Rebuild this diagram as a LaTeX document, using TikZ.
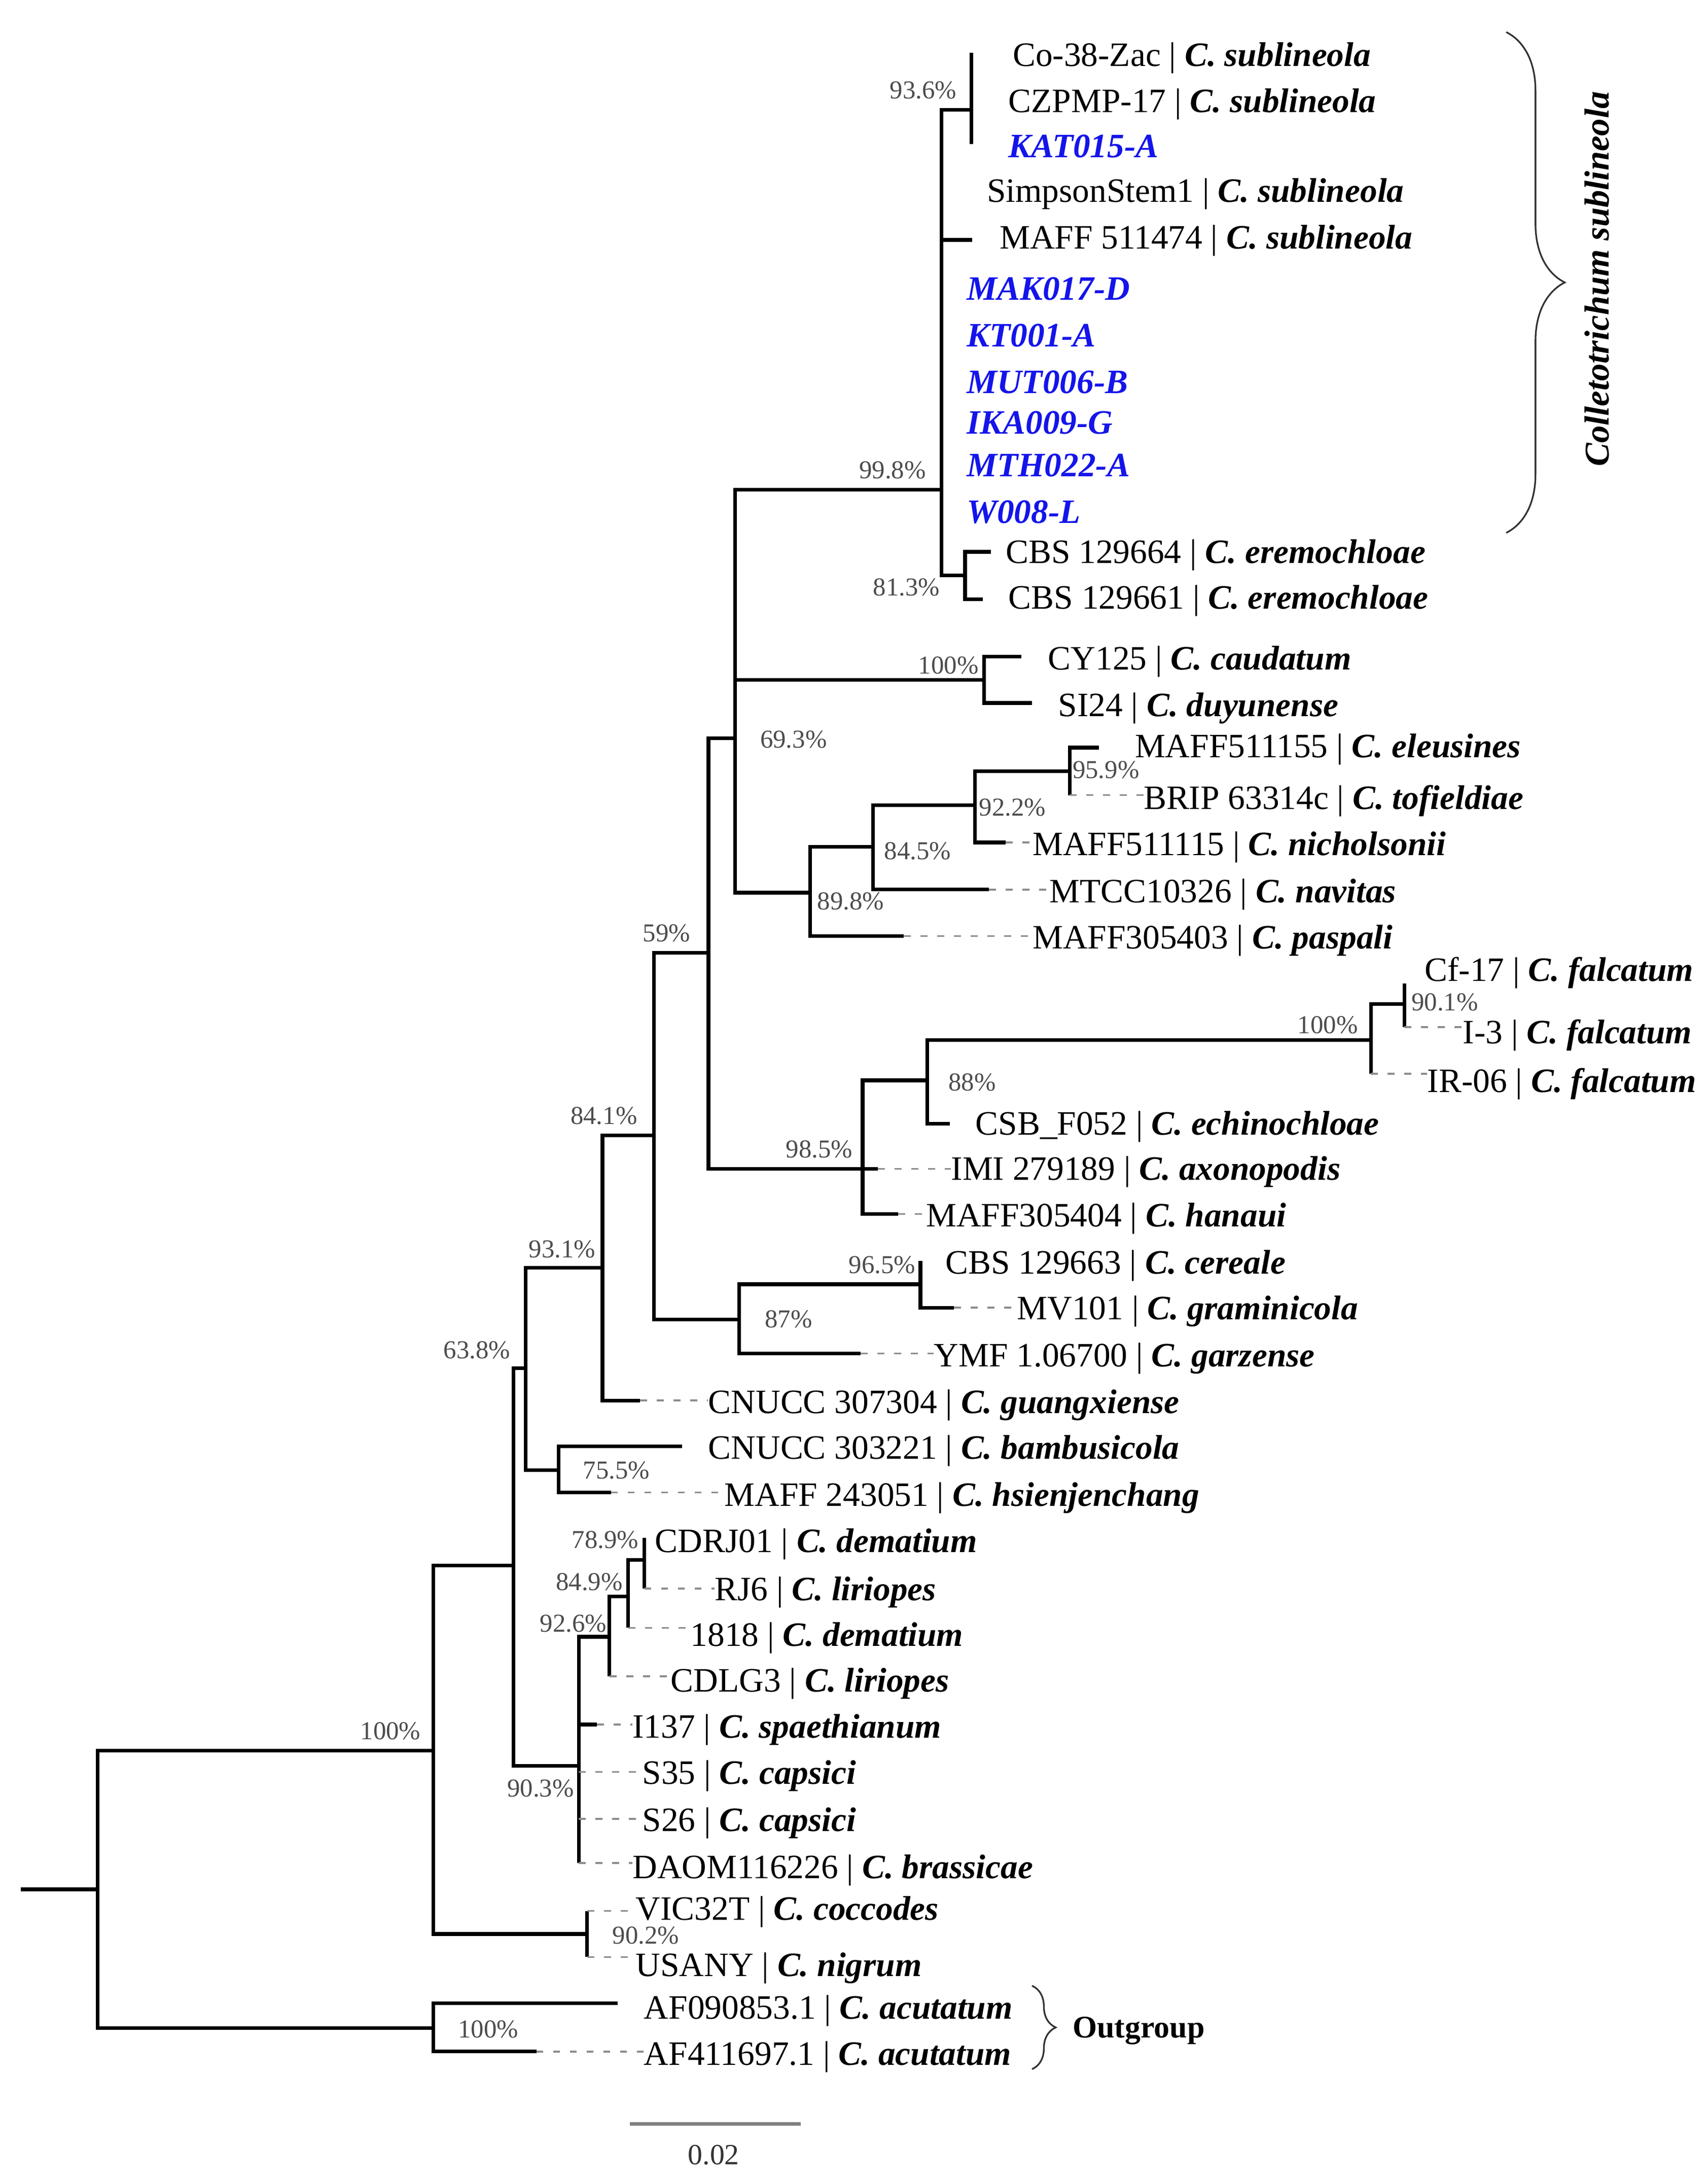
\documentclass[tikz,border=0pt]{standalone}
\usepackage{fontspec}
\setmainfont{Liberation Serif}
\usetikzlibrary{decorations.pathreplacing}
\definecolor{isoblue}{RGB}{20,20,235}
\newcommand{\species}[1]{\textbf{\textit{#1}}}
\tikzset{
  br/.style={line width=2.6pt, line join=miter},
  ext/.style={draw=black!45, line width=1.3pt, dash pattern=on 5pt off 7pt},
  leaf/.style={anchor=west, inner sep=0pt, text height=16pt, text depth=0pt,
    font=\fontsize{24.5}{28}\selectfont},
  isolate/.style={leaf, text=isoblue, font=\fontsize{24.5}{28}\selectfont\bfseries\itshape},
  supp/.style={inner sep=0pt, text=black!70, font=\fontsize{18.5}{20}\selectfont},
  brc/.style={decorate, line width=1.2pt, draw=black!80},
}

\begin{document}
\begin{tikzpicture}[x=1pt, y=-1pt]
\useasboundingbox (0,0) rectangle (1224.7,1563.6);

% internal vertices
\coordinate (r0) at (15,1354.5);
\coordinate (v0) at (70,1354.5);
\coordinate (v1) at (310.6,1255);
\coordinate (vog) at (310.6,1454);
\coordinate (v2) at (368.3,1122.4);
\coordinate (v3) at (377,981);
\coordinate (v4) at (432,909);
\coordinate (v5) at (400.5,1054);
\coordinate (v6) at (469,814);
\coordinate (v7) at (508,683);
\coordinate (v8) at (530,946);
\coordinate (v9) at (660,920.7);
\coordinate (v10) at (527,529.4);
\coordinate (v11) at (618.5,838);
\coordinate (v12) at (665,774.5);
\coordinate (v13) at (983,745.5);
\coordinate (v14) at (1007,719.7);
\coordinate (v15) at (675,351);
\coordinate (v16) at (696.4,78.7);
\coordinate (v17) at (692,412.4);
\coordinate (v18) at (705.5,487.3);
\coordinate (v19) at (581,640);
\coordinate (v20) at (626,607);
\coordinate (v21) at (699,577.4);
\coordinate (v22) at (767,553);
\coordinate (v23) at (415,1266);
\coordinate (v24) at (437,1173.4);
\coordinate (v25) at (450.5,1144.5);
\coordinate (v26) at (462,1118.3);
\coordinate (v27) at (421,1386.5);

% branch ends
\coordinate (e1) at (696.4,37.9);
\coordinate (e3) at (696.4,103.4);
\coordinate (e5) at (697,172);
\coordinate (e12) at (710.4,395.6);
\coordinate (e13) at (704.7,429.5);
\coordinate (e14) at (732.5,470.7);
\coordinate (e15) at (739.8,504);
\coordinate (e16) at (788,536);
\coordinate (e17) at (767,570);
\coordinate (e18) at (721,604);
\coordinate (e19) at (709,637.7);
\coordinate (e20) at (648,671);
\coordinate (e21) at (1007,705);
\coordinate (e22) at (1007,736.4);
\coordinate (e23) at (983,769.7);
\coordinate (e24) at (681,805.6);
\coordinate (e25) at (629.4,838);
\coordinate (e26) at (644,870.3);
\coordinate (e27) at (660,904);
\coordinate (e28) at (684,937.5);
\coordinate (e29) at (617,970.4);
\coordinate (e30) at (459,1004);
\coordinate (e31) at (489,1037);
\coordinate (e32) at (438,1070);
\coordinate (e33) at (462,1102.6);
\coordinate (e34) at (462,1138.8);
\coordinate (e35) at (450.5,1167);
\coordinate (e36) at (437,1201.7);
\coordinate (e37) at (428,1236.3);
\coordinate (e38) at (415,1270.3);
\coordinate (e39) at (415,1304);
\coordinate (e40) at (415,1335.5);
\coordinate (e41) at (421,1370);
\coordinate (e42) at (421,1403);
\coordinate (e43) at (443,1436);
\coordinate (e44) at (384.6,1470.8);

% taxa
\node[leaf] (t1) at (726,39.3) {Co-38-Zac | \species{C. sublineola}};
\node[leaf] (t2) at (723,72.5) {CZPMP-17 | \species{C. sublineola}};
\node[isolate] (t3) at (723,105) {KAT015-A};
\node[leaf] (t4) at (707.5,137) {SimpsonStem1 | \species{C. sublineola}};
\node[leaf] (t5) at (716.6,170.5) {MAFF 511474 | \species{C. sublineola}};
\node[isolate] (t6) at (693,207) {MAK017-D};
\node[isolate] (t7) at (693,240.4) {KT001-A};
\node[isolate] (t8) at (693,274) {MUT006-B};
\node[isolate] (t9) at (693,303) {IKA009-G};
\node[isolate] (t10) at (693,333.7) {MTH022-A};
\node[isolate] (t11) at (693,367) {W008-L};
\node[leaf] (t12) at (721,395.7) {CBS 129664 | \species{C. eremochloae}};
\node[leaf] (t13) at (723,428.4) {CBS 129661 | \species{C. eremochloae}};
\node[leaf] (t14) at (751.4,472.3) {CY125 | \species{C. caudatum}};
\node[leaf] (t15) at (758.6,505.6) {SI24 | \species{C. duyunense}};
\node[leaf] (t16) at (813.6,535.1) {MAFF511155 | \species{C. eleusines}};
\node[leaf] (t17) at (819.8,572.3) {BRIP 63314c | \species{C. tofieldiae}};
\node[leaf] (t18) at (740.3,605.1) {MAFF511115 | \species{C. nicholsonii}};
\node[leaf] (t19) at (752.3,639) {MTCC10326 | \species{C. navitas}};
\node[leaf] (t20) at (740.3,672.3) {MAFF305403 | \species{C. paspali}};
\node[leaf] (t21) at (1021.3,695.4) {Cf-17 | \species{C. falcatum}};
\node[leaf] (t22) at (1048.8,740.2) {I-3 | \species{C. falcatum}};
\node[leaf] (t23) at (1023.3,774.9) {IR-06 | \species{C. falcatum}};
\node[leaf] (t24) at (699.3,805.6) {CSB\_F052 | \species{C. echinochloae}};
\node[leaf] (t25) at (681.8,838) {IMI 279189 | \species{C. axonopodis}};
\node[leaf] (t26) at (663.9,871.4) {MAFF305404 | \species{C. hanaui}};
\node[leaf] (t27) at (677.8,905.2) {CBS 129663 | \species{C. cereale}};
\node[leaf] (t28) at (729.1,937.8) {MV101 | \species{C. graminicola}};
\node[leaf] (t29) at (669.5,971.6) {YMF 1.06700 | \species{C. garzense}};
\node[leaf] (t30) at (507.7,1005.4) {CNUCC 307304 | \species{C. guangxiense}};
\node[leaf] (t31) at (507.7,1038) {CNUCC 303221 | \species{C. bambusicola}};
\node[leaf] (t32) at (519.3,1071.8) {MAFF 243051 | \species{C. hsienjenchang}};
\node[leaf] (t33) at (469.5,1105) {CDRJ01 | \species{C. dematium}};
\node[leaf] (t34) at (512.3,1139.4) {RJ6 | \species{C. liriopes}};
\node[leaf] (t35) at (495,1172) {1818 | \species{C. dematium}};
\node[leaf] (t36) at (480.8,1205) {CDLG3 | \species{C. liriopes}};
\node[leaf] (t37) at (453.4,1238) {I137 | \species{C. spaethianum}};
\node[leaf] (t38) at (460.4,1271) {S35 | \species{C. capsici}};
\node[leaf] (t39) at (460.4,1305) {S26 | \species{C. capsici}};
\node[leaf] (t40) at (453.4,1338.6) {DAOM116226 | \species{C. brassicae}};
\node[leaf] (t41) at (455.7,1368.5) {VIC32T | \species{C. coccodes}};
\node[leaf] (t42) at (455.7,1408.8) {USANY | \species{C. nigrum}};
\node[leaf] (t43) at (461.6,1439.3) {AF090853.1 | \species{C. acutatum}};
\node[leaf] (t44) at (461.6,1472.4) {AF411697.1 | \species{C. acutatum}};

% branches
\draw[br] (r0) -- (v0);
\draw[br] (v0) |- (v1) (v0) |- (vog);
\draw[br] (v1) |- (v2) (v1) |- (v27);
\draw[br] (v2) |- (v3) (v2) |- (v23);
\draw[br] (v3) |- (v4) (v3) |- (v5);
\draw[br] (v4) |- (v6) (v4) |- (e30);
\draw[br] (v5) |- (e31) (v5) |- (e32);
\draw[br] (v6) |- (v7) (v6) |- (v8);
\draw[br] (v7) |- (v10) (v7) |- (v11);
\draw[br] (v10) |- (v15) (v10) |- (v18) (v10) |- (v19);
\draw[br] (v15) |- (v16) (v15) |- (e5) (v15) |- (v17);
\draw[br] (v16) |- (e1) (v16) |- (e3);
\draw[br] (v17) |- (e12) (v17) |- (e13);
\draw[br] (v18) |- (e14) (v18) |- (e15);
\draw[br] (v19) |- (v20) (v19) |- (e20);
\draw[br] (v20) |- (v21) (v20) |- (e19);
\draw[br] (v21) |- (v22) (v21) |- (e18);
\draw[br] (v22) |- (e16) (v22) |- (e17);
\draw[br] (v11) |- (v12) (v11) |- (e25) (v11) |- (e26);
\draw[br] (v12) |- (v13) (v12) |- (e24);
\draw[br] (v13) |- (v14) (v13) |- (e23);
\draw[br] (v14) |- (e21) (v14) |- (e22);
\draw[br] (v8) |- (v9) (v8) |- (e29);
\draw[br] (v9) |- (e27) (v9) |- (e28);
\draw[br] (v23) |- (v24) (v23) |- (e37) (v23) |- (e38) (v23) |- (e39) (v23) |- (e40);
\draw[br] (v24) |- (v25) (v24) |- (e36);
\draw[br] (v25) |- (v26) (v25) |- (e35);
\draw[br] (v26) |- (e33) (v26) |- (e34);
\draw[br] (v27) |- (e41) (v27) |- (e42);
\draw[br] (vog) |- (e43) (vog) |- (e44);

% dashed extensions
\draw[ext] (e17) -- (e17 -| t17.west);
\draw[ext] (e18) -- (e18 -| t18.west);
\draw[ext] (e19) -- (e19 -| t19.west);
\draw[ext] (e20) -- (e20 -| t20.west);
\draw[ext] (e22) -- (e22 -| t22.west);
\draw[ext] (e23) -- (e23 -| t23.west);
\draw[ext] (e25) -- (e25 -| t25.west);
\draw[ext] (e26) -- (e26 -| t26.west);
\draw[ext] (e28) -- (e28 -| t28.west);
\draw[ext] (e29) -- (e29 -| t29.west);
\draw[ext] (e30) -- (e30 -| t30.west);
\draw[ext] (e32) -- (e32 -| t32.west);
\draw[ext] (e34) -- (e34 -| t34.west);
\draw[ext] (e35) -- (e35 -| t35.west);
\draw[ext] (e36) -- (e36 -| t36.west);
\draw[ext] (e37) -- (e37 -| t37.west);
\draw[ext] (e38) -- (e38 -| t38.west);
\draw[ext] (e39) -- (e39 -| t39.west);
\draw[ext] (e40) -- (e40 -| t40.west);
\draw[ext] (e41) -- (e41 -| t41.west);
\draw[ext] (e42) -- (e42 -| t42.west);
\draw[ext] (e44) -- (e44 -| t44.west);

% support values
\node[supp] (b1) at (640,337) {99.8\%};
\node[supp] (b2) at (662,64.7) {93.6\%};
\node[supp] (b3) at (650,421) {81.3\%};
\node[supp] (b4) at (680,477) {100\%};
\node[supp] (b5) at (569,530) {69.3\%};
\node[supp] (b6) at (793,552) {95.9\%};
\node[supp] (b7) at (726,579) {92.2\%};
\node[supp] (b8) at (658,610) {84.5\%};
\node[supp] (b9) at (610,646) {89.8\%};
\node[supp] (b10) at (478,669) {59\%};
\node[supp] (b11) at (952,735) {100\%};
\node[supp] (b12) at (1036,718.5) {90.1\%};
\node[supp] (b13) at (697,776) {88\%};
\node[supp] (b14) at (433,800) {84.1\%};
\node[supp] (b15) at (587.4,824) {98.5\%};
\node[supp] (b16) at (403,895.5) {93.1\%};
\node[supp] (b17) at (632.5,907) {96.5\%};
\node[supp] (b18) at (565.4,945.8) {87\%};
\node[supp] (b19) at (342,968) {63.8\%};
\node[supp] (b20) at (442,1054) {75.5\%};
\node[supp] (b21) at (434,1104) {78.9\%};
\node[supp] (b22) at (422.5,1134) {84.9\%};
\node[supp] (b23) at (411,1164) {92.6\%};
\node[supp] (b24) at (280,1241) {100\%};
\node[supp] (b25) at (387.6,1282) {90.3\%};
\node[supp] (b26) at (463,1387.4) {90.2\%};
\node[supp] (b27) at (350,1455) {100\%};

% clade braces
\coordinate (k1) at (1080,23);
\coordinate (k2) at (1080,382);
\draw[brc, decoration={brace, amplitude=42pt}] (k1) -- (k2);
\node[rotate=90, inner sep=0pt, font=\fontsize{25}{28}\selectfont\bfseries\itshape] (clade) at (1145,200) {Colletotrichum sublineola};
\coordinate (k3) at (740,1423.6);
\coordinate (k4) at (740,1483.4);
\draw[brc, decoration={brace, amplitude=17pt}] (k3) -- (k4);
\node[anchor=west, inner sep=0pt, text height=15.5pt, text depth=0pt, font=\fontsize{22.5}{26}\selectfont\bfseries] (og) at (769,1453) {Outgroup};

% scale bar
\coordinate (s1) at (451.7,1522.7);
\coordinate (s2) at (574,1522.7);
\draw[line width=2.8pt, black!50] (s1) -- (s2);
\node[inner sep=0pt, text=black!80, font=\fontsize{21}{24}\selectfont] (sc) at (511.7,1544.8) {0.02};
\end{tikzpicture}
\end{document}
